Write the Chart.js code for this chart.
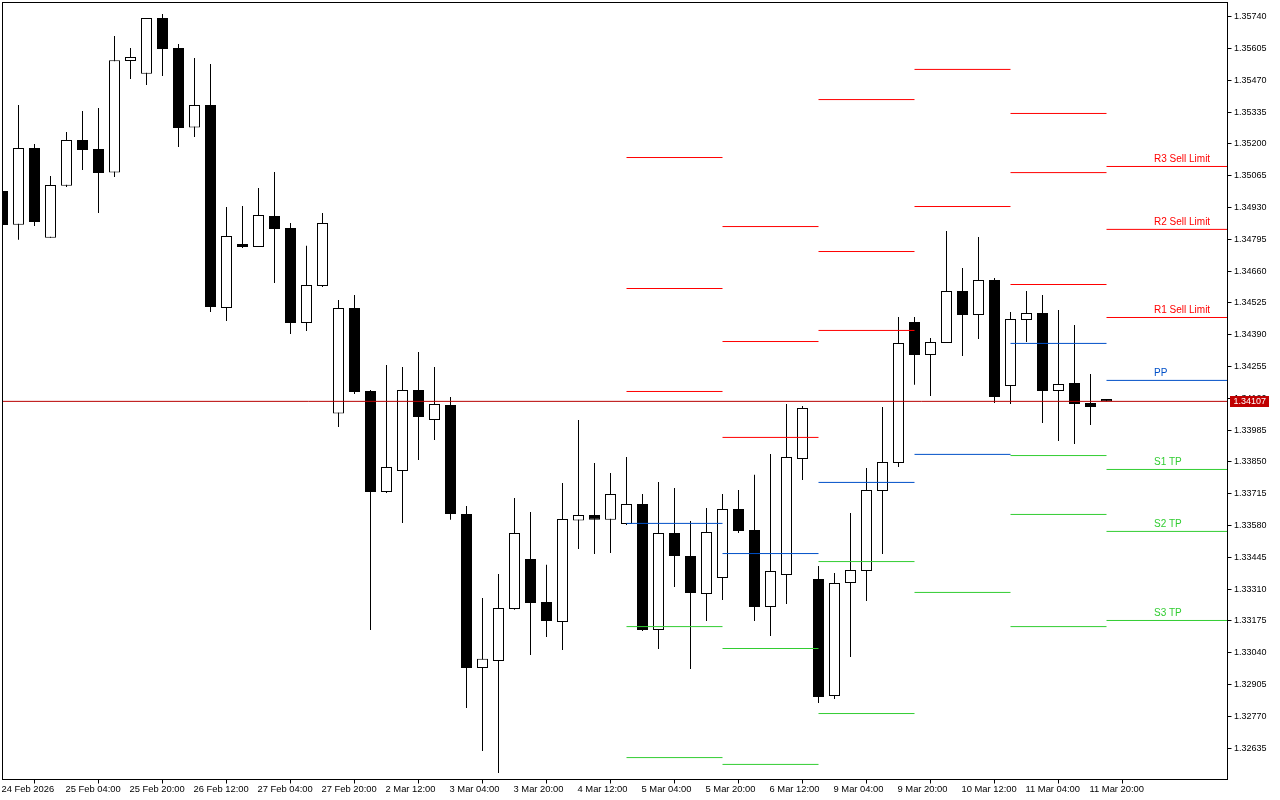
<!DOCTYPE html>
<html>
<head>
<meta charset="utf-8">
<title>Pivot chart</title>
<style>html,body{margin:0;padding:0;background:#fff}canvas{display:block}</style>
<script src="https://cdn.jsdelivr.net/npm/chart.js@4"></script>
</head>
<body>
<canvas id="c" width="1280" height="800"></canvas>
<script>
const opens = [1.35000,1.34857,1.35182,1.34802,1.35022,1.35216,1.35178,1.35078,1.35552,1.35498,1.35734,1.35607,1.35269,1.35365,1.34503,1.34775,1.34762,1.34894,1.34843,1.34440,1.34597,1.34055,1.34503,1.34151,1.33722,1.33811,1.34155,1.34028,1.34092,1.33629,1.32975,1.33005,1.33226,1.33438,1.33255,1.33171,1.33601,1.33625,1.33604,1.33587,1.33671,1.33137,1.33548,1.33451,1.33289,1.33357,1.33650,1.33561,1.33234,1.33370,1.33862,1.33353,1.32856,1.33336,1.33387,1.33727,1.33845,1.34444,1.34304,1.34355,1.34575,1.34474,1.34622,1.34172,1.34452,1.34482,1.34151,1.34185,1.34100,1.34117];
const highs = [1.35000,1.35365,1.35199,1.35064,1.35250,1.35339,1.35352,1.35658,1.35607,1.35734,1.35751,1.35624,1.35564,1.35539,1.34932,1.34936,1.35013,1.35081,1.34864,1.34767,1.34907,1.34537,1.34559,1.34155,1.34261,1.34253,1.34317,1.34253,1.34126,1.33663,1.33272,1.33374,1.33697,1.33637,1.33413,1.33761,1.34028,1.33845,1.33803,1.33871,1.33714,1.33765,1.33739,1.33599,1.33654,1.33714,1.33731,1.33795,1.33884,1.34096,1.34087,1.33408,1.33379,1.33633,1.33824,1.34083,1.34465,1.34465,1.34376,1.34830,1.34673,1.34805,1.34631,1.34486,1.34575,1.34559,1.34495,1.34431,1.34223,1.34117];
const lows = [1.34856,1.34793,1.34851,1.34802,1.35017,1.35089,1.34907,1.35059,1.35475,1.35450,1.35488,1.35187,1.35229,1.34486,1.34448,1.34758,1.34762,1.34609,1.34393,1.34406,1.34592,1.33998,1.34138,1.33137,1.33718,1.33591,1.33858,1.33943,1.33604,1.32806,1.32623,1.32530,1.33222,1.33030,1.33107,1.33052,1.33480,1.33459,1.33463,1.33582,1.33132,1.33056,1.33319,1.32971,1.33175,1.33264,1.33548,1.33175,1.33111,1.33247,1.33773,1.32827,1.32844,1.33022,1.33260,1.33459,1.33828,1.34177,1.34130,1.34355,1.34300,1.34372,1.34100,1.34096,1.34359,1.34015,1.33939,1.33926,1.34007,1.34107];
const closes = [1.34856,1.35182,1.34868,1.35025,1.35216,1.35174,1.35076,1.35555,1.35569,1.35734,1.35603,1.35267,1.35365,1.34508,1.34809,1.34762,1.34898,1.34839,1.34440,1.34601,1.34864,1.34503,1.34147,1.33722,1.33828,1.34155,1.34041,1.34096,1.33629,1.32975,1.33014,1.33230,1.33548,1.33251,1.33175,1.33608,1.33625,1.33604,1.33714,1.33671,1.33137,1.33548,1.33451,1.33294,1.33553,1.33650,1.33557,1.33234,1.33387,1.33871,1.34079,1.32852,1.33336,1.33391,1.33731,1.33850,1.34355,1.34304,1.34359,1.34575,1.34474,1.34622,1.34126,1.34457,1.34482,1.34151,1.34181,1.34096,1.34083,1.34107];

const lastPrice = 1.34107;

const dayStartBars = [39,45,51,57,63,69];
const dayEndBars = [45,51,57,63,69,76.5625];
const levelR3 = [1.35142,1.34849,1.35388,null,1.35329,1.35104];
const levelR2 = [1.34586,1.34361,1.34743,1.35516,1.35078,1.34837];
const levelR1 = [1.34149,1.33954,1.34408,1.34934,1.34603,1.34463];
const levelPP = [1.33589,1.33461,1.33763,1.33882,1.34353,1.34196];
const levelS1 = [1.33151,1.33058,1.33427,1.33296,1.33877,1.33818];
const levelS2 = [1.32595,1.32566,1.32782,null,1.33627,1.33555];
const levelS3 = [null,null,null,null,1.33151,1.33177];

const levelNames = ["R3 Sell Limit","R2 Sell Limit","R1 Sell Limit","PP","S1 TP","S2 TP","S3 TP"];

const timeLabels = ["24 Feb 2026","25 Feb 04:00","25 Feb 20:00","26 Feb 12:00","27 Feb 04:00","27 Feb 20:00","2 Mar 12:00","3 Mar 04:00","3 Mar 20:00","4 Mar 12:00","5 Mar 04:00","5 Mar 20:00","6 Mar 12:00","9 Mar 04:00","9 Mar 20:00","10 Mar 12:00","11 Mar 04:00","11 Mar 20:00"];
const priceTicks = [1.35740,1.35605,1.35470,1.35335,1.35200,1.35065,1.34930,1.34795,1.34660,1.34525,1.34390,1.34255,1.34120,1.33985,1.33850,1.33715,1.33580,1.33445,1.33310,1.33175,1.33040,1.32905,1.32770,1.32635];

const RED = '#ff0000', BLUE = '#0050c8', GREEN = '#32cd32';
const FONT = '"Liberation Sans", Arial, sans-serif';
const X_FONT_PX = 9.4;
const Y_FONT_PX = 9;
const LEVEL_FONT_PX = 10;
const BARS_PER_TICK = 4;

const levelSets = [levelR3,levelR2,levelR1,levelPP,levelS1,levelS2,levelS3];
const levelColors = [RED,RED,RED,BLUE,GREEN,GREEN,GREEN];

function levelData(values){
  const pts = [];
  values.forEach((v,d)=>{
    if(v===null) return;
    pts.push({x:dayStartBars[d],y:v},{x:dayEndBars[d],y:v},{x:dayEndBars[d],y:NaN});
  });
  return pts;
}

const barIndex = opens.map((_,i)=>i);
const isUp = barIndex.map(i=>closes[i]>=opens[i]);

const datasets = [];
levelSets.forEach((vals,k)=>{
  datasets.push({type:'line',data:levelData(vals),borderColor:levelColors[k],borderWidth:1,pointRadius:0,fill:false,spanGaps:false,tension:0,order:1});
});
datasets.push({type:'line',data:[{x:0,y:lastPrice},{x:76.5625,y:lastPrice}],borderColor:'#b80000',borderWidth:1,pointRadius:0,fill:false,order:0});
datasets.push({type:'bar',data:barIndex.map(i=>({x:i,y:[opens[i],closes[i]]})),backgroundColor:isUp.map(u=>u?'#ffffff':'#000000'),borderColor:'#000000',borderWidth:1,borderSkipped:false,inflateAmount:0,barThickness:11,grouped:false,order:2});
datasets.push({type:'bar',data:barIndex.map(i=>({x:i,y:[lows[i],highs[i]]})),backgroundColor:'#000000',borderWidth:0,inflateAmount:0,barThickness:1,grouped:false,order:3});

const decor = {
  id:'decor',
  beforeDraw(ch){
    const c=ch.ctx;c.save();c.fillStyle='#fff';c.fillRect(0,0,ch.width,ch.height);c.restore();
  },
  afterDraw(ch){
    const c=ch.ctx,a=ch.chartArea,ys=ch.scales.y;
    c.save();
    c.strokeStyle='#000';c.lineWidth=1;
    c.strokeRect(a.left,a.top,a.right-a.left,a.bottom-a.top);
    c.font=LEVEL_FONT_PX+'px '+FONT;
    c.textAlign='left';c.textBaseline='alphabetic';
    const lastDay=dayStartBars.length-1;
    levelSets.forEach((vals,k)=>{
      c.fillStyle=levelColors[k];
      c.fillText(levelNames[k],1154,ys.getPixelForValue(vals[lastDay])-4);
    });
    const py=Math.round(ys.getPixelForValue(lastPrice)-0.5);
    c.fillStyle='#c00000';
    c.fillRect(1230,py-5,39,11);
    c.font=Y_FONT_PX+'px '+FONT;
    c.fillStyle='#ffffff';
    c.textBaseline='middle';
    c.fillText(lastPrice.toFixed(5),1233.5,py+0.8);
    c.restore();
  }
};

new Chart(document.getElementById('c'),{
  data:{datasets},
  plugins:[decor],
  options:{
    responsive:false,animation:false,devicePixelRatio:1,
    layout:{padding:{left:2.5,top:2.5,right:0,bottom:0}},
    plugins:{legend:{display:false},tooltip:{enabled:false},title:{display:false}},
    events:[],
    scales:{
      x:{
        type:'linear',min:0,max:76.5625,offset:false,
        border:{display:false},
        grid:{display:true,drawOnChartArea:false,drawTicks:true,tickLength:4,tickColor:'#000',tickWidth:1},
        afterBuildTicks(s){s.ticks=timeLabels.map((_,k)=>({value:k*BARS_PER_TICK}));},
        afterFit(s){s.height=20.5;s.paddingLeft=0;s.paddingRight=0;},
        ticks:{autoSkip:false,maxRotation:0,minRotation:0,align:'start',padding:0,labelOffset:-1,color:'#000',font:{family:FONT,size:X_FONT_PX},
          callback(v){return timeLabels[Math.round(v/BARS_PER_TICK)];}}
      },
      y:{
        type:'linear',position:'right',min:1.32502,max:1.358,
        border:{display:false},
        grid:{display:true,drawOnChartArea:false,drawTicks:true,tickLength:4,tickColor:'#000',tickWidth:1},
        afterBuildTicks(s){s.ticks=priceTicks.map(v=>({value:v}));},
        afterFit(s){s.width=52.5;s.paddingTop=0;s.paddingBottom=0;},
        ticks:{padding:2.5,color:'#000',font:{family:FONT,size:Y_FONT_PX},autoSkip:false,
          callback(v){return v.toFixed(5);}}
      }
    }
  }
});
</script>
</body>
</html>
